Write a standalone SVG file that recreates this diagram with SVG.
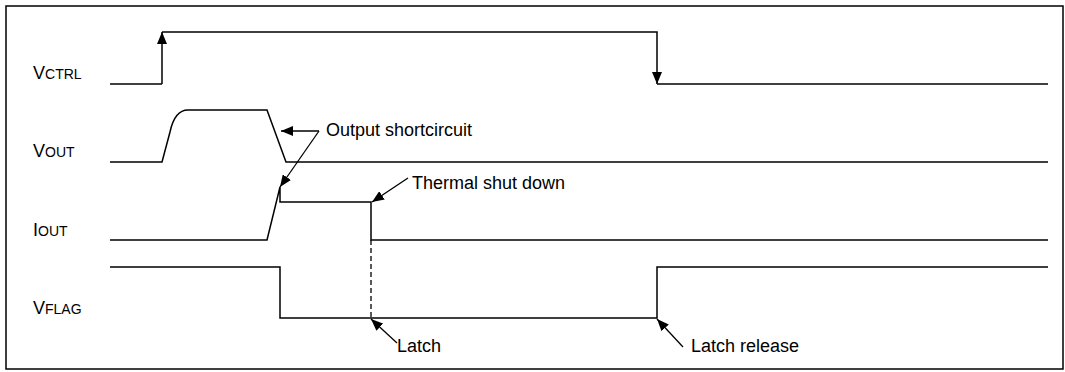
<svg xmlns="http://www.w3.org/2000/svg" width="1065" height="372" viewBox="0 0 1065 372">
<style>
.w{fill:none;stroke:#000;stroke-width:1.5;stroke-linejoin:miter}
.a{fill:none;stroke:#000;stroke-width:1.3}
.d{fill:none;stroke:#000;stroke-width:1.3;stroke-dasharray:5,3}
.t{font-family:"Liberation Sans",Arial,sans-serif;font-size:18px;fill:#000}
.big{font-size:18px}
.sm{font-size:14px}
</style>
<defs>
<marker id="ah" markerUnits="userSpaceOnUse" markerWidth="13" markerHeight="10" refX="12" refY="5" orient="auto">
<path d="M0,0 L12,5 L0,10 z" fill="#000"/>
</marker>
</defs>
<rect x="6" y="6" width="1057" height="363" fill="#fff" stroke="#000" stroke-width="1.5"/>
<g id="vctrl">
<text class="t" x="33" y="79"><tspan class="big">V</tspan><tspan class="sm">CTRL</tspan></text>
<path class="w" d="M110,84 H162"/>
<path class="w" d="M162,84 V32" marker-end="url(#ah)"/>
<path class="w" d="M162,32 H657 V84" marker-end="url(#ah)"/>
<path class="w" d="M657,84 H1048"/>
</g>
<g id="vout">
<text class="t" x="33" y="157"><tspan class="big">V</tspan><tspan class="sm">OUT</tspan></text>
<path class="w" d="M110,162 H162 L170,132 C173,118 178,110 188,110 H267 L286,162 H1048"/>
</g>
<g id="iout">
<text class="t" x="33" y="236"><tspan class="big">I</tspan><tspan class="sm">OUT</tspan></text>
<path class="w" d="M110,240 H267 L280,187 V202 H371 V240 H1048"/>
</g>
<g id="vflag">
<text class="t" x="33" y="314"><tspan class="big">V</tspan><tspan class="sm">FLAG</tspan></text>
<path class="w" d="M110,267 H280 V318 H657 V267 H1048"/>
</g>
<g id="connectors">
<path class="d" d="M371,240 V318"/>
<path class="a" d="M319,131 H281" marker-end="url(#ah)"/>
<path class="a" d="M319,131 L280,187" marker-end="url(#ah)"/>
<path class="a" d="M408,178 L372,202" marker-end="url(#ah)"/>
<path class="a" d="M397,343 L371,319" marker-end="url(#ah)"/>
<path class="a" d="M683,347 L657,319" marker-end="url(#ah)"/>
</g>
<g id="labels">
<text class="t" x="326" y="136">Output shortcircuit</text>
<text class="t" x="412" y="189">Thermal shut down</text>
<text class="t" x="397" y="352">Latch</text>
<text class="t" x="691" y="352">Latch release</text>
</g>
</svg>
